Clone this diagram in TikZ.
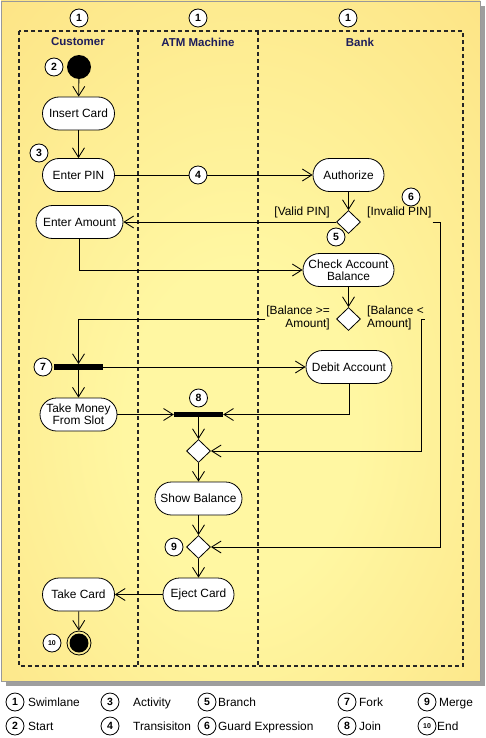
\documentclass[tikz,border=0pt]{standalone}
\usepackage{fontspec}
\setmainfont{Liberation Sans}
\usetikzlibrary{arrows.meta,shapes.geometric,positioning}
\definecolor{panelin}{HTML}{FFF7A2}
\definecolor{panelout}{HTML}{FAD36C}
\definecolor{lanetext}{HTML}{1E1E5C}
\pgfdeclareradialshading{panelglow}{\pgfpoint{0bp}{-8bp}}{color(0bp)=(panelin); color(12bp)=(panelin); color(62bp)=(panelout)}
\tikzset{
  act/.style={draw, fill=white, rounded corners=16.5pt, minimum height=33pt, minimum width=72pt, inner sep=1pt, align=center, line width=0.8pt, font=\fontsize{11.9}{12.4}\selectfont},
  dec/.style={draw, fill=white, diamond, minimum width=24pt, minimum height=23pt, inner sep=0pt, line width=0.8pt},
  syncbar/.style={fill=black, minimum width=49pt, minimum height=5.5pt, inner sep=0pt},
  num/.style={draw, fill=white, circle, minimum size=18pt, inner sep=0pt, line width=0.8pt, font=\bfseries\fontsize{10.5}{11}\selectfont},
  guard/.style={inner sep=1pt, font=\fontsize{11.9}{13.5}\selectfont},
  lanehead/.style={text=lanetext, font=\bfseries\fontsize{11.5}{12}\selectfont},
  legtext/.style={anchor=base west, inner sep=0pt, font=\fontsize{11.9}{12}\selectfont},
  flow/.style={-{Straight Barb[length=9.5pt,width=12pt]}, line width=0.85pt},
  lane/.style={dashed, dash pattern=on 4pt off 3pt, line width=1.2pt, draw=black!85}
}
\begin{document}
\begin{tikzpicture}[x=1pt,y=-1pt]
    \useasboundingbox (0,0) rectangle (486,738);
    \fill[white] (0,0) rectangle (486,738);
    % panel with shadow
    \fill[black!38] (6,6) rectangle (485,686);
    \shade[shading=panelglow, draw=black!40] (1,1) rectangle (480,681);
    % swimlanes
    \draw[lane] (19,31) rectangle (463,666);
    \draw[lane] (138,31) -- (138,666);
    \draw[lane] (258,31) -- (258,666);
    \node[lanehead] (hcust) at (78,42) {Customer};
    \node[lanehead] (hatm) at (198,42) {ATM Machine};
    \node[lanehead] (hbank) at (360,42) {Bank};
    \node[num] (sl1) at (79,18) {1};
    \node[num] (sl2) at (198,18) {1};
    \node[num] (sl3) at (348,18) {1};

    \node[circle, fill=black, minimum size=24pt, inner sep=0pt] (start) at (79,67) {};
    \node[act] (insert) at (78.5,113.5) {Insert Card};
    \node[act] (pin) at (78.5,175) {Enter PIN};
    \node[act, minimum width=71pt] (auth) at (348.5,175) {Authorize};
    \node[dec] (br1) at (348.5,222) {};
    \node[act, minimum width=87pt] (amount) at (79.5,222) {Enter Amount};
    \node[act, minimum width=91pt] (check) at (348.5,270) {Check Account\\Balance};
    \node[dec] (br2) at (348.5,319) {};
    \node[syncbar] (fork) at (78.5,367) {};
    \node[act, minimum width=86pt] (debit) at (349,367) {Debit Account};
    \node[act, minimum width=77pt] (money) at (78.5,414.5) {Take Money\\From Slot};
    \node[syncbar] (join) at (198.5,414.5) {};
    \node[dec] (mg1) at (198.5,451) {};
    \node[act, minimum width=87pt] (show) at (198.5,498.5) {Show Balance};
    \node[dec] (mg2) at (198.5,547) {};
    \node[act, minimum width=71pt] (eject) at (198.5,594.5) {Eject Card};
    \node[act] (take) at (78.5,594.5) {Take Card};
    \node[circle, draw=black, line width=0.8pt, minimum size=24pt, inner sep=0pt] (end) at (79,643) {};
    \fill (end) circle (9.5pt);

    % guard expressions
    \node[guard, anchor=east] (gvalid) at (331,212) {[Valid PIN]};
    \node[guard, anchor=west] (ginvalid) at (366,212) {[Invalid PIN]};
    \node[guard, anchor=east, align=right] (gge) at (331,318) {[Balance >=\\Amount]};
    \node[guard, anchor=west, align=left] (glt) at (366,318) {[Balance <\\Amount]};
    \coordinate (rinv) at (440,222);
    \coordinate (rlt) at (421,319);

    \draw[flow] (start) -- (insert);
    \draw[flow] (insert) -- (pin);
    \draw[flow] (pin) -- (auth);
    \draw[flow] (auth) -- (br1);
    \draw[flow] (br1.west) -- (amount.east);
    \draw[flow] (ginvalid.east |- br1.east) -- (rinv) |- (mg2.east);
    \draw[flow] (amount.south) |- (check.west);
    \draw[flow] (check) -- (br2);
    \draw[flow] (gge.west |- br2.west) -| (fork.north);
    \draw[flow] (glt.east |- br2.east) -- (rlt) |- (mg1.east);
    \draw[flow] (fork.east) -- (debit.west);
    \draw[flow] (fork) -- (money);
    \draw[flow] (money.east) -- (join.west);
    \draw[flow] (debit.south) |- (join.east);
    \draw[flow] (join) -- (mg1);
    \draw[flow] (mg1) -- (show);
    \draw[flow] (show) -- (mg2);
    \draw[flow] (mg2) -- (eject);
    \draw[flow] (eject) -- (take);
    \draw[flow] (take) -- (end);

    % numbers
    \node[num] (c2) at (54,67) {2};
    \node[num] (c3) at (39,153) {3};
    \node[num] (c4) at (198,175) {4};
    \node[num] (c5) at (336,237) {5};
    \node[num] (c6) at (411,197) {6};
    \node[num] (c7) at (43,367) {7};
    \node[num] (c8) at (198.5,398) {8};
    \node[num] (c9) at (174,547) {9};
    \node[num, font=\bfseries\fontsize{7}{8}\selectfont] (c10) at (52,643) {10};

    % legend
    \node[num] (k1) at (15,702) {1};
    \node[legtext] (t1) at (28,706.3) {Swimlane};
    \node[num] (k2) at (15,726) {2};
    \node[legtext] (t2) at (28,730.3) {Start};
    \node[num] (k3) at (110,702) {3};
    \node[legtext] (t3) at (133,706.3) {Activity};
    \node[num] (k4) at (110,726) {4};
    \node[legtext] (t4) at (133,730.3) {Transisiton};
    \node[num] (k5) at (207,702) {5};
    \node[legtext] (t5) at (218,706.3) {Branch};
    \node[num] (k6) at (207,726) {6};
    \node[legtext] (t6) at (218,730.3) {Guard Expression};
    \node[num] (k7) at (347,702) {7};
    \node[legtext] (t7) at (359,706.3) {Fork};
    \node[num] (k8) at (347,726) {8};
    \node[legtext] (t8) at (359,730.3) {Join};
    \node[num] (k9) at (427,702) {9};
    \node[legtext] (t9) at (439,706.3) {Merge};
    \node[num, font=\bfseries\fontsize{7}{8}\selectfont] (k10) at (427,726) {10};
    \node[legtext] (t10) at (437,730.3) {End};
\end{tikzpicture}
\end{document}
